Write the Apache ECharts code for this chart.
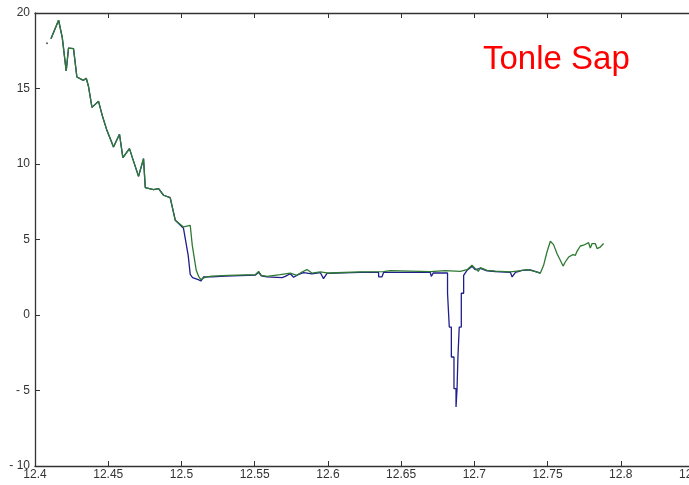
<!DOCTYPE html>
<html>
<head>
<meta charset="utf-8">
<script src="https://cdn.jsdelivr.net/npm/echarts@6/dist/echarts.min.js"></script>
<style>
  html, body { margin: 0; padding: 0; background: #fff; }
  #chart { width: 689px; height: 485px; }
</style>
</head>
<body>
<div id="chart"></div>
<script>
// x axis ticks / y axis ticks
var xMin = 12.4, xMax = 12.85, xStep = 0.05;
var yMin = -10, yMax = 20, yStep = 5;

// green trace (longitude / level)
var greenX = [12.4109, 12.4161, 12.4186, 12.4213, 12.4229, 12.4263, 12.4286, 12.4331, 12.4350, 12.4365,
  12.4389, 12.4434, 12.4459, 12.4491, 12.4536, 12.4577, 12.4600, 12.4645, 12.4671, 12.4707,
  12.4741, 12.4753, 12.4809, 12.4844, 12.4878, 12.4923, 12.4958, 12.5014, 12.5060, 12.5074,
  12.5101, 12.5117, 12.5133, 12.5162, 12.5208, 12.5322, 12.5504, 12.5527, 12.5545, 12.5584,
  12.5675, 12.5743, 12.5789, 12.5823, 12.5857, 12.5891, 12.5948, 12.6005, 12.6221, 12.6380,
  12.6426, 12.6699, 12.6802, 12.6904, 12.6950, 12.6984, 12.7007, 12.7027, 12.7041, 12.7087,
  12.7143, 12.7246, 12.7291, 12.7360, 12.7405, 12.7451, 12.7473, 12.7496, 12.7519, 12.7541,
  12.7565, 12.7587, 12.7606, 12.7621, 12.7644, 12.7655, 12.7674, 12.7690, 12.7701, 12.7724,
  12.7735, 12.7746, 12.7780, 12.7792, 12.7804, 12.7826, 12.7838, 12.7860, 12.7883];
var greenY = [18.30, 19.52, 18.39, 16.16, 17.68, 17.64, 15.76, 15.54, 15.68, 15.15,
  13.75, 14.15, 13.22, 12.23, 11.13, 11.97, 10.42, 11.02, 10.24, 9.18,
  10.36, 8.44, 8.30, 8.37, 7.93, 7.77, 6.27, 5.83, 5.94, 4.61,
  2.96, 2.56, 2.34, 2.50, 2.58, 2.63, 2.67, 2.89, 2.63, 2.56,
  2.67, 2.78, 2.63, 2.85, 3.01, 2.78, 2.85, 2.78, 2.85, 2.87,
  2.94, 2.87, 2.94, 2.89, 3.00, 3.29, 3.07, 2.89, 3.14, 2.96,
  2.91, 2.85, 2.91, 3.00, 2.91, 2.78, 3.29, 4.17, 4.88, 4.66,
  4.06, 3.62, 3.24, 3.51, 3.84, 3.73, 4.00, 3.95, 4.22, 4.57,
  4.44, 4.62, 4.79, 4.44, 4.73, 4.73, 4.40, 4.50, 4.73];

// lone first sample
var dotX = [12.4082];
var dotY = [18.0];

// blue trace
var blueX = [12.4109, 12.4161, 12.4186, 12.4213, 12.4229, 12.4263, 12.4286, 12.4331, 12.4350, 12.4365,
  12.4389, 12.4434, 12.4459, 12.4491, 12.4536, 12.4577, 12.4600, 12.4645, 12.4671, 12.4707,
  12.4741, 12.4753, 12.4809, 12.4844, 12.4878, 12.4923, 12.4958,
  12.5014, 12.5026, 12.5046, 12.5060, 12.5076, 12.5115, 12.5133, 12.5151, 12.5208, 12.5299,
  12.5504, 12.5527, 12.5545, 12.5584, 12.5686, 12.5709, 12.5743, 12.5766, 12.5800, 12.5834,
  12.5891, 12.5948, 12.5970, 12.5994, 12.6221, 12.6346, 12.6347, 12.6369, 12.6380, 12.6699,
  12.6706, 12.6720, 12.6817, 12.6817, 12.6829, 12.6829, 12.6843, 12.6843, 12.6861, 12.6861,
  12.6875, 12.6875, 12.6882, 12.6882, 12.6888, 12.6888, 12.6897, 12.6897, 12.6911, 12.6911,
  12.6927, 12.6927, 12.6950, 12.6984, 12.7007, 12.7041, 12.7087, 12.7143, 12.7246, 12.7258,
  12.7281, 12.7327, 12.7383, 12.7451];
var blueY = [18.30, 19.52, 18.39, 16.16, 17.68, 17.64, 15.76, 15.54, 15.68, 15.15,
  13.75, 14.15, 13.22, 12.23, 11.13, 11.97, 10.42, 11.02, 10.24, 9.18,
  10.36, 8.44, 8.30, 8.37, 7.93, 7.77, 6.27,
  5.74, 5.61, 3.95, 2.69, 2.48, 2.34, 2.25, 2.52, 2.53, 2.58,
  2.64, 2.83, 2.60, 2.52, 2.48, 2.56, 2.73, 2.50, 2.69, 2.81,
  2.73, 2.81, 2.41, 2.76, 2.82, 2.82, 2.52, 2.52, 2.82, 2.82,
  2.56, 2.79, 2.78, 1.44, 1.44, -0.80, -0.80, -2.78, -2.78, -4.88,
  -4.88, -6.09, -6.09, -4.88, -4.88, -2.78, -2.78, -0.80, -0.80, 1.44,
  1.44, 2.63, 2.96, 3.22, 3.00, 3.08, 2.92, 2.88, 2.83, 2.52,
  2.83, 2.96, 2.99, 2.78];

function zip(xs, ys) {
  return xs.map(function (x, i) { return [x, ys[i]]; });
}

var chart = echarts.init(document.getElementById("chart"));
var axisFont = { fontFamily: "Liberation Sans, Arial, sans-serif", fontSize: 12, color: "#333" };

var option = {
  animation: false,
  backgroundColor: "#fff",
  title: {
    text: "Tonle Sap",
    left: 478,
    top: 38,
    textStyle: { color: "#ff0000", fontSize: 33, fontWeight: "normal", fontFamily: "Liberation Sans, Arial, sans-serif" }
  },
  grid: { left: 35, top: 13, width: 659, bottom: 19, containLabel: false, outerBoundsMode: "none" },
  xAxis: [
    {
      type: "value",
      min: xMin,
      max: xMax,
      interval: xStep,
      axisLine: { show: true, onZero: false, lineStyle: { color: "#333", width: 1.3 } },
      axisTick: { show: true, inside: true, length: 5, lineStyle: { color: "#333" } },
      splitLine: { show: false },
      axisLabel: Object.assign({
        margin: 3,
        showMaxLabel: true,
        formatter: function (v) { return String(parseFloat(v.toFixed(2))); }
      }, axisFont)
    },
    {
      type: "value",
      position: "top",
      min: xMin,
      max: xMax,
      interval: xStep,
      axisLine: { show: true, onZero: false, lineStyle: { color: "#333", width: 1.3 } },
      axisTick: { show: true, inside: true, length: 5, lineStyle: { color: "#333" } },
      splitLine: { show: false },
      axisLabel: { show: false }
    }
  ],
  yAxis: [
    {
      type: "value",
      min: yMin,
      max: yMax,
      interval: yStep,
      axisLine: { show: true, onZero: false, lineStyle: { color: "#333", width: 1.3 } },
      axisTick: { show: true, inside: true, length: 5, lineStyle: { color: "#333" } },
      splitLine: { show: false },
      axisLabel: Object.assign({
        margin: 5,
        formatter: function (v) { return v < 0 ? "- " + Math.abs(v) : String(v); }
      }, axisFont)
    }
  ],
  series: [
    {
      name: "blue",
      type: "line",
      data: zip(blueX, blueY),
      showSymbol: false,
      lineStyle: { color: "#1e1e8c", width: 1.3 },
      z: 2
    },
    {
      name: "green",
      type: "line",
      data: zip(greenX, greenY),
      showSymbol: false,
      lineStyle: { color: "#2e7a32", width: 1.3 },
      z: 3
    },
    {
      name: "dot",
      type: "scatter",
      data: zip(dotX, dotY),
      symbolSize: 2,
      itemStyle: { color: "#333" },
      z: 3
    }
  ]
};
chart.setOption(option);
</script>
</body>
</html>
